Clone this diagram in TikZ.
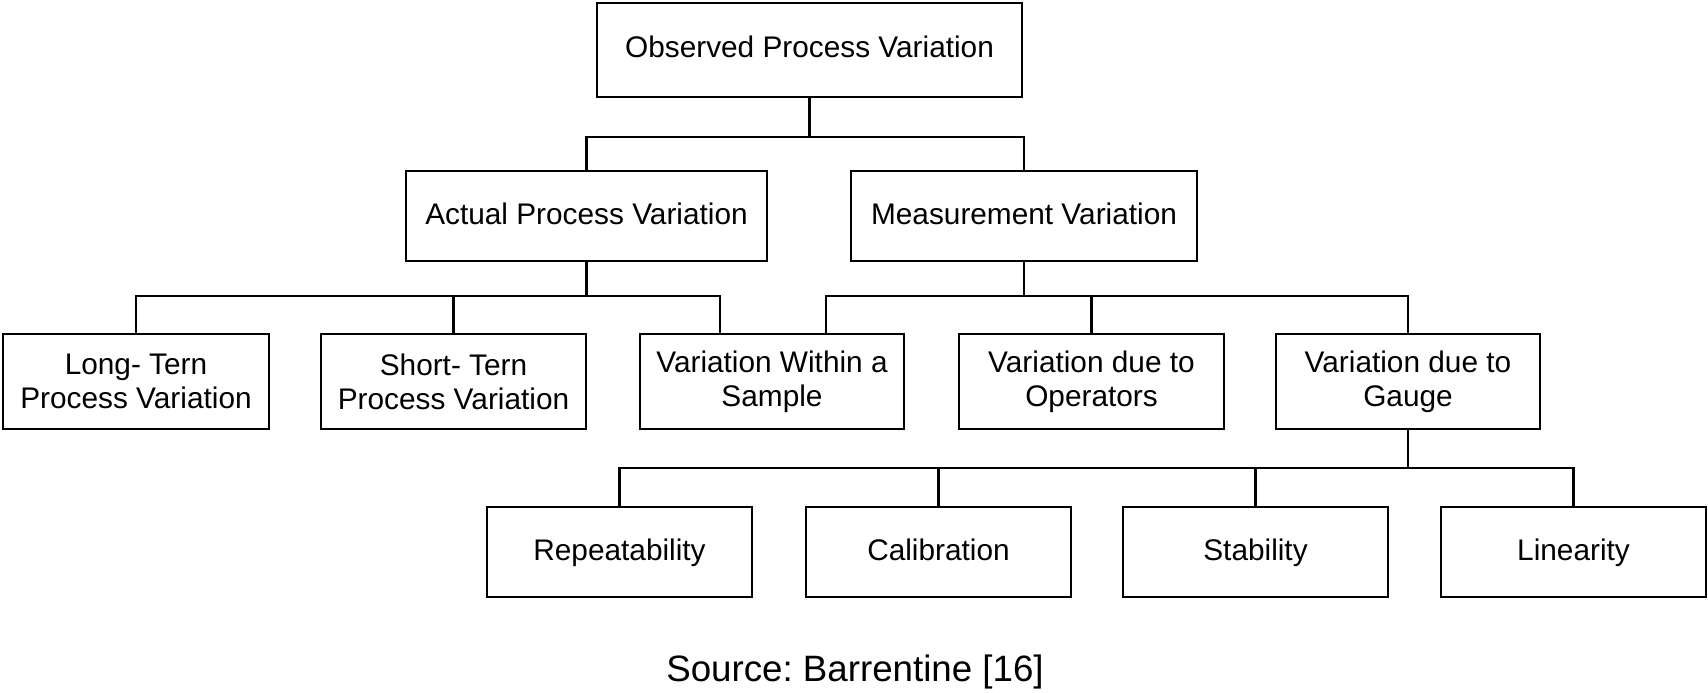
\documentclass[tikz,border=0pt]{standalone}
\usepackage{fontspec}
\setmainfont{Liberation Sans}
\frenchspacing
\begin{document}
\begin{tikzpicture}[x=1pt,y=-1pt,
  box/.style={draw=black,line width=2.4pt,inner sep=0pt,align=center,
    font=\fontsize{29.8}{34.3}\selectfont,minimum height=90pt,minimum width=265pt},
  one/.style={text height=22pt,text depth=6pt},
  conn/.style={draw=black,line width=2.2pt}]
\useasboundingbox (0,0) rectangle (1708,693);
\node[box,one,minimum width=425pt,minimum height=94pt] (obs) at (809.5,50) {Observed Process Variation};
\node[box,one,minimum width=361pt] (act) at (586.5,216) {Actual Process Variation};
\node[box,one,minimum width=346pt] (mea) at (1024,216) {Measurement Variation};
\node[box,minimum height=95pt,minimum width=266pt] (long) at (136,381.5) {Long- Tern\\Process Variation};
\node[box,minimum height=95pt] (short) at (453.5,381.5) {Short- Tern\\Process Variation};
\node[box,minimum height=95pt,minimum width=264pt] (within) at (772,381.5) {Variation Within a\\Sample};
\node[box,minimum height=95pt] (oper) at (1091.5,381.5) {Variation due to\\Operators};
\node[box,minimum height=95pt,minimum width=264pt] (gauge) at (1408,381.5) {Variation due to\\Gauge};
\node[box,one] (rep) at (619.5,552) {Repeatability};
\node[box,one] (cal) at (938.5,552) {Calibration};
\node[box,one] (stab) at (1255.5,552) {Stability};
\node[box,one] (lin) at (1573.5,552) {Linearity};
\node[font=\fontsize{36.7}{42}\selectfont,inner sep=0pt] (src) at (855,672) {Source: Barrentine [16]};
\coordinate (b1) at (809.5,137);
\coordinate (b2) at (586.5,296);
\coordinate (b3) at (1024,296);
\coordinate (b4) at (1408,468);
\draw[conn] (obs.south) -- (b1);
\draw[conn] (act.north) |- (b1) -| (mea.north);
\draw[conn] (act.south) -- (b2);
\draw[conn] (long.north) |- (b2) -| ([xshift=-52pt]within.north);
\draw[conn] (short.north) -- (short.north |- b2);
\draw[conn] (mea.south) -- (b3);
\draw[conn] ([xshift=54pt]within.north) |- (b3) -| (gauge.north);
\draw[conn] (oper.north) -- (oper.north |- b3);
\draw[conn] (gauge.south) -- (b4);
\draw[conn] (rep.north) |- (b4) -| (lin.north);
\draw[conn] (cal.north) -- (cal.north |- b4);
\draw[conn] (stab.north) -- (stab.north |- b4);
\end{tikzpicture}
\end{document}
